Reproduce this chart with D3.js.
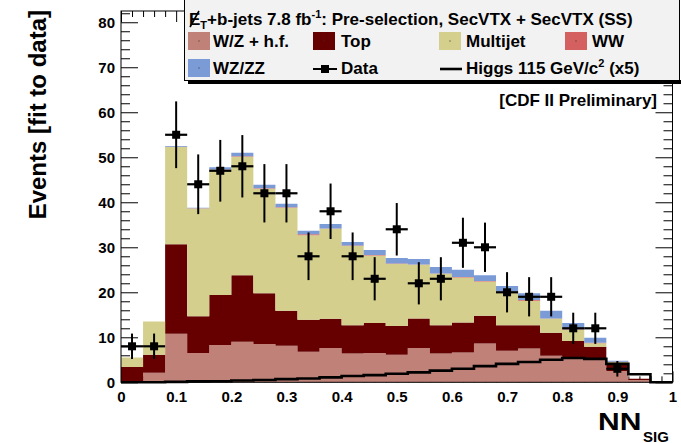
<!DOCTYPE html>
<html>
<head>
<meta charset="utf-8">
<script src="https://cdn.jsdelivr.net/npm/d3@7"></script>
<style>
  body { margin: 0; background: #fff; }
  svg { display: block; }
  text { font-family: "Liberation Sans", Arial, sans-serif; font-weight: bold; fill: #000; }
</style>
</head>
<body>
<svg id="chart" width="681" height="443"></svg>
<script>
// NN_SIG bins (lower edges), width 0.04
const binLow = [0, 0.04, 0.08, 0.12, 0.16, 0.2, 0.24, 0.28, 0.32, 0.36, 0.4, 0.44, 0.48,
                0.52, 0.56, 0.6, 0.64, 0.68, 0.72, 0.76, 0.8, 0.84, 0.88, 0.92, 0.96]
const binWidth = 0.04

// backgrounds, stacked bottom -> top
const wzHF     = [0.3, 2.1, 10.8, 6.5, 8.3, 9.0, 8.5, 8.1, 6.8, 7.6, 6.4, 6.5, 6.1, 7.6, 6.4, 6.6, 8.6, 7.0, 7.5, 5.9, 5.4, 5.2, 2.5, 0.5, 0]
const topQ     = [3.1, 4.0, 19.9, 8.2, 11.1, 14.8, 11.3, 7.8, 7.1, 6.5, 6.3, 6.7, 6.4, 6.6, 6.3, 6.7, 6.2, 5.7, 5.2, 5.1, 3.8, 2.7, 1.8, 0.3, 0]
const multijet = [2.1, 7.4, 21.6, 23.9, 27.8, 26.3, 23.2, 22.9, 18.8, 20.0, 17.6, 15.0, 13.8, 11.9, 11.4, 10.0, 7.6, 7.4, 5.4, 3.1, 2.5, 0.8, 0.2, 0, 0]
const ww       = [0, 0, 0.05, 0.05, 0.1, 0.1, 0.1, 0.1, 0.2, 0.1, 0.1, 0.1, 0.1, 0.1, 0.1, 0.1, 0.1, 0.1, 0.2, 0.1, 0.1, 0.1, 0.05, 0, 0]
const wzzz     = [0, 0, 0.15, 0.15, 0.5, 0.8, 0.8, 0.8, 0.8, 1.0, 0.8, 1.1, 1.2, 1.2, 1.4, 1.6, 1.3, 1.2, 1.5, 1.7, 1.4, 1.1, 0.25, 0, 0]

const dataCounts = [8, 8, 55, 44, 47, 48, 42, 42, 28, 38, 28, 23, 34, 22, 23, 31, 30, 20, 19, 19, 12, 12, 3, 0, 0]
const higgsX5  = [0, 0, 0.1, 0.2, 0.25, 0.4, 0.5, 0.7, 0.85, 1.1, 1.4, 1.6, 1.9, 2.2, 2.6, 3.0, 3.6, 4.1, 4.5, 5.0, 5.4, 5.2, 4.1, 1.8, 0]

const yMajor = [0, 10, 20, 30, 40, 50, 60, 70, 80]
const yMinor = [2, 4, 6, 8, 12, 14, 16, 18, 22, 24, 26, 28, 32, 34, 36, 38, 42, 44, 46, 48, 52, 54, 56, 58, 62, 64, 66, 68, 72, 74, 76, 78, 82]
const xMajor = [0, 0.1, 0.2, 0.3, 0.4, 0.5, 0.6, 0.7, 0.8, 0.9, 1]
const xMinor = [0.02, 0.04, 0.06, 0.08, 0.12, 0.14, 0.16, 0.18, 0.22, 0.24, 0.26, 0.28, 0.32, 0.34, 0.36, 0.38,
                0.42, 0.44, 0.46, 0.48, 0.52, 0.54, 0.56, 0.58, 0.62, 0.64, 0.66, 0.68, 0.72, 0.74, 0.76, 0.78,
                0.82, 0.84, 0.86, 0.88, 0.92, 0.94, 0.96, 0.98]

const layers = [
    { key: 'wzHF', label: 'W/Z + h.f.', values: wzHF, color: '#c08179' },
    { key: 'top', label: 'Top', values: topQ, color: '#660000' },
    { key: 'multijet', label: 'Multijet', values: multijet, color: '#d4cf8c' },
    { key: 'ww', label: 'WW', values: ww, color: '#d46060' },
    { key: 'wzzz', label: 'WZ/ZZ', values: wzzz, color: '#7b9bd6' },
]

const svg = d3.select('#chart')
const x = d3.scaleLinear().domain([0, 1]).range([121, 672.5])
const y = d3.scaleLinear().domain([0, 82.5]).range([382.3, 11])

// axes (ticks pointing into the frame, like ROOT)
let fmtX = d => (d === 0 || d === 1) ? String(d) : d3.format('.1f')(d)

let gAxes = svg.append('g').attr('class', 'axes')
gAxes.append('g').attr('transform', `translate(${x(0)},0)`)
    .call(d3.axisLeft(y).tickValues(yMajor).tickSizeInner(-17).tickSizeOuter(0).tickPadding(6).tickFormat(d3.format('d')))
gAxes.append('g').attr('transform', `translate(${x(0)},0)`)
    .call(d3.axisLeft(y).tickValues(yMinor).tickSize(-9).tickFormat(''))
gAxes.append('g').attr('transform', `translate(${x(1)},0)`)
    .call(d3.axisRight(y).tickValues(yMajor).tickSize(-17).tickFormat(''))
gAxes.append('g').attr('transform', `translate(${x(1)},0)`)
    .call(d3.axisRight(y).tickValues(yMinor).tickSize(-9).tickFormat(''))
gAxes.append('g').attr('transform', `translate(0,${y(0)})`)
    .call(d3.axisBottom(x).tickValues(xMajor).tickSizeInner(-11).tickSizeOuter(0).tickPadding(9).tickFormat(fmtX))
gAxes.append('g').attr('transform', `translate(0,${y(0)})`)
    .call(d3.axisBottom(x).tickValues(xMinor).tickSize(-6).tickFormat(''))
gAxes.append('g').attr('transform', `translate(0,${y.range()[1]})`)
    .call(d3.axisTop(x).tickValues(xMajor).tickSize(-11).tickFormat(''))
gAxes.append('g').attr('transform', `translate(0,${y.range()[1]})`)
    .call(d3.axisTop(x).tickValues(xMinor).tickSize(-6).tickFormat(''))

gAxes.selectAll('.domain').remove()
gAxes.selectAll('.tick line').attr('stroke', '#000').attr('stroke-width', 1)
gAxes.selectAll('.tick text').attr('font-size', 15).attr('font-family', '"Liberation Sans", Arial, sans-serif').attr('font-weight', 'bold')

// stacked histograms
let rows = binLow.map((b, i) => {
    let r = {}
    layers.forEach(l => r[l.key] = l.values[i])
    return r
})
let stacked = d3.stack().keys(layers.map(l => l.key))(rows)

let stepPts = series => series.flatMap((d, i) => [
    { x: binLow[i], lo: d[0], hi: d[1] },
    { x: binLow[i] + binWidth, lo: d[0], hi: d[1] },
])
let area = d3.area()
    .x(p => x(p.x))
    .y0(p => y(p.lo))
    .y1(p => y(p.hi))

svg.append('g').selectAll('path.stack')
    .data(stacked)
    .enter()
    .append('path')
    .attr('class', 'stack')
    .attr('d', s => area(stepPts(s)))
    .attr('fill', (s, i) => layers[i].color)

// Higgs (x5) step line
let higgsPts = higgsX5.flatMap((v, i) => [[binLow[i], v], [binLow[i] + binWidth, v]])
svg.append('path')
    .attr('d', d3.line().x(p => x(p[0])).y(p => y(p[1]))(higgsPts))
    .attr('fill', 'none')
    .attr('stroke', '#000')
    .attr('stroke-width', 2.6)

// frame
svg.append('rect')
    .attr('x', x(0)).attr('y', y.range()[1])
    .attr('width', x(1) - x(0)).attr('height', y(0) - y.range()[1])
    .attr('fill', 'none').attr('stroke', '#000').attr('stroke-width', 1)

// data points with sqrt(N) errors
let pts = dataCounts.map((n, i) => ({ n: n, c: binLow[i] + binWidth / 2, lo: binLow[i] })).filter(d => d.n > 0)
let gData = svg.append('g')
gData.selectAll('line.ex').data(pts).enter().append('line')
    .attr('x1', d => x(d.lo)).attr('x2', d => x(d.lo + binWidth))
    .attr('y1', d => y(d.n)).attr('y2', d => y(d.n))
    .attr('stroke', '#000').attr('stroke-width', 2.2)
gData.selectAll('line.ey').data(pts).enter().append('line')
    .attr('x1', d => x(d.c)).attr('x2', d => x(d.c))
    .attr('y1', d => y(d.n + Math.sqrt(d.n))).attr('y2', d => y(d.n - Math.sqrt(d.n)))
    .attr('stroke', '#000').attr('stroke-width', 2)
gData.selectAll('rect').data(pts).enter().append('rect')
    .attr('x', d => x(d.c) - 4).attr('y', d => y(d.n) - 4)
    .attr('width', 8).attr('height', 8).attr('fill', '#000')

// axis titles
svg.append('text')
    .attr('transform', 'translate(46,10) rotate(-90)')
    .attr('text-anchor', 'end')
    .attr('font-size', 24)
    .text('Events [fit to data]')

svg.append('text')
    .attr('transform', 'translate(598,430) scale(1.25,1)')
    .attr('font-size', 24)
    .text('NN')
svg.append('text')
    .attr('x', 643).attr('y', 441.5)
    .attr('font-size', 15)
    .text('SIG')

svg.append('text').attr('x', 657).attr('y', 106).attr('text-anchor', 'end').attr('font-size', 17)
    .text('[CDF II Preliminary]')

// legend box with shadow
let leg = svg.append('g')
leg.append('rect').attr('x', 188).attr('y', 80).attr('width', 500).attr('height', 4).attr('fill', '#000')
leg.append('rect').attr('x', 184.5).attr('y', -1).attr('width', 495).attr('height', 81.5)
    .attr('fill', '#f2f2f2').attr('stroke', '#000').attr('stroke-width', 1)

let head = leg.append('text').attr('x', 189).attr('y', 25).attr('font-size', 17)
head.append('tspan').text('E')
head.append('tspan').attr('font-size', 11).attr('dy', 4).text('T')
head.append('tspan').attr('dy', -4).text('+b-jets 7.8 fb')
head.append('tspan').attr('font-size', 11).attr('dy', -7).text('-1')
head.append('tspan').attr('dy', 7).text(': Pre-selection, SecVTX + SecVTX (SS)')
leg.append('line').attr('x1', 190).attr('y1', 27).attr('x2', 199).attr('y2', 11)
    .attr('stroke', '#000').attr('stroke-width', 1.6)

const legCols = [188, 313, 439, 565]
const legTextX = [213, 341, 466, 592]
const legRows = [32, 59]
let swatchItems = [
    { layer: layers[0], col: 0, row: 0 },
    { layer: layers[1], col: 1, row: 0 },
    { layer: layers[2], col: 2, row: 0 },
    { layer: layers[3], col: 3, row: 0 },
    { layer: layers[4], col: 0, row: 1 },
]
swatchItems.forEach(it => {
    leg.append('rect')
        .attr('x', legCols[it.col]).attr('y', legRows[it.row])
        .attr('width', 22).attr('height', 18)
        .attr('fill', it.layer.color)
    leg.append('rect')
        .attr('x', legCols[it.col] + 10.5).attr('y', legRows[it.row] + 8.5)
        .attr('width', 1).attr('height', 1).attr('fill', '#333')
    leg.append('text')
        .attr('x', legTextX[it.col]).attr('y', legRows[it.row] + 15)
        .attr('font-size', 17)
        .text(it.layer.label)
})
// Data entry
leg.append('line').attr('x1', 313).attr('x2', 337).attr('y1', 69).attr('y2', 69).attr('stroke', '#000').attr('stroke-width', 2)
leg.append('rect').attr('x', 321).attr('y', 65).attr('width', 8).attr('height', 8).attr('fill', '#000')
leg.append('text').attr('x', legTextX[1]).attr('y', legRows[1] + 15).attr('font-size', 17).text('Data')
// Higgs entry
leg.append('line').attr('x1', 440).attr('x2', 462).attr('y1', 69).attr('y2', 69).attr('stroke', '#000').attr('stroke-width', 2.6)
let hl = leg.append('text').attr('x', legTextX[2]).attr('y', legRows[1] + 15).attr('font-size', 17)
hl.append('tspan').text('Higgs 115 GeV/c')
hl.append('tspan').attr('font-size', 11).attr('dy', -7).text('2')
hl.append('tspan').attr('dy', 7).text(' (x5)')
</script>
</body>
</html>
